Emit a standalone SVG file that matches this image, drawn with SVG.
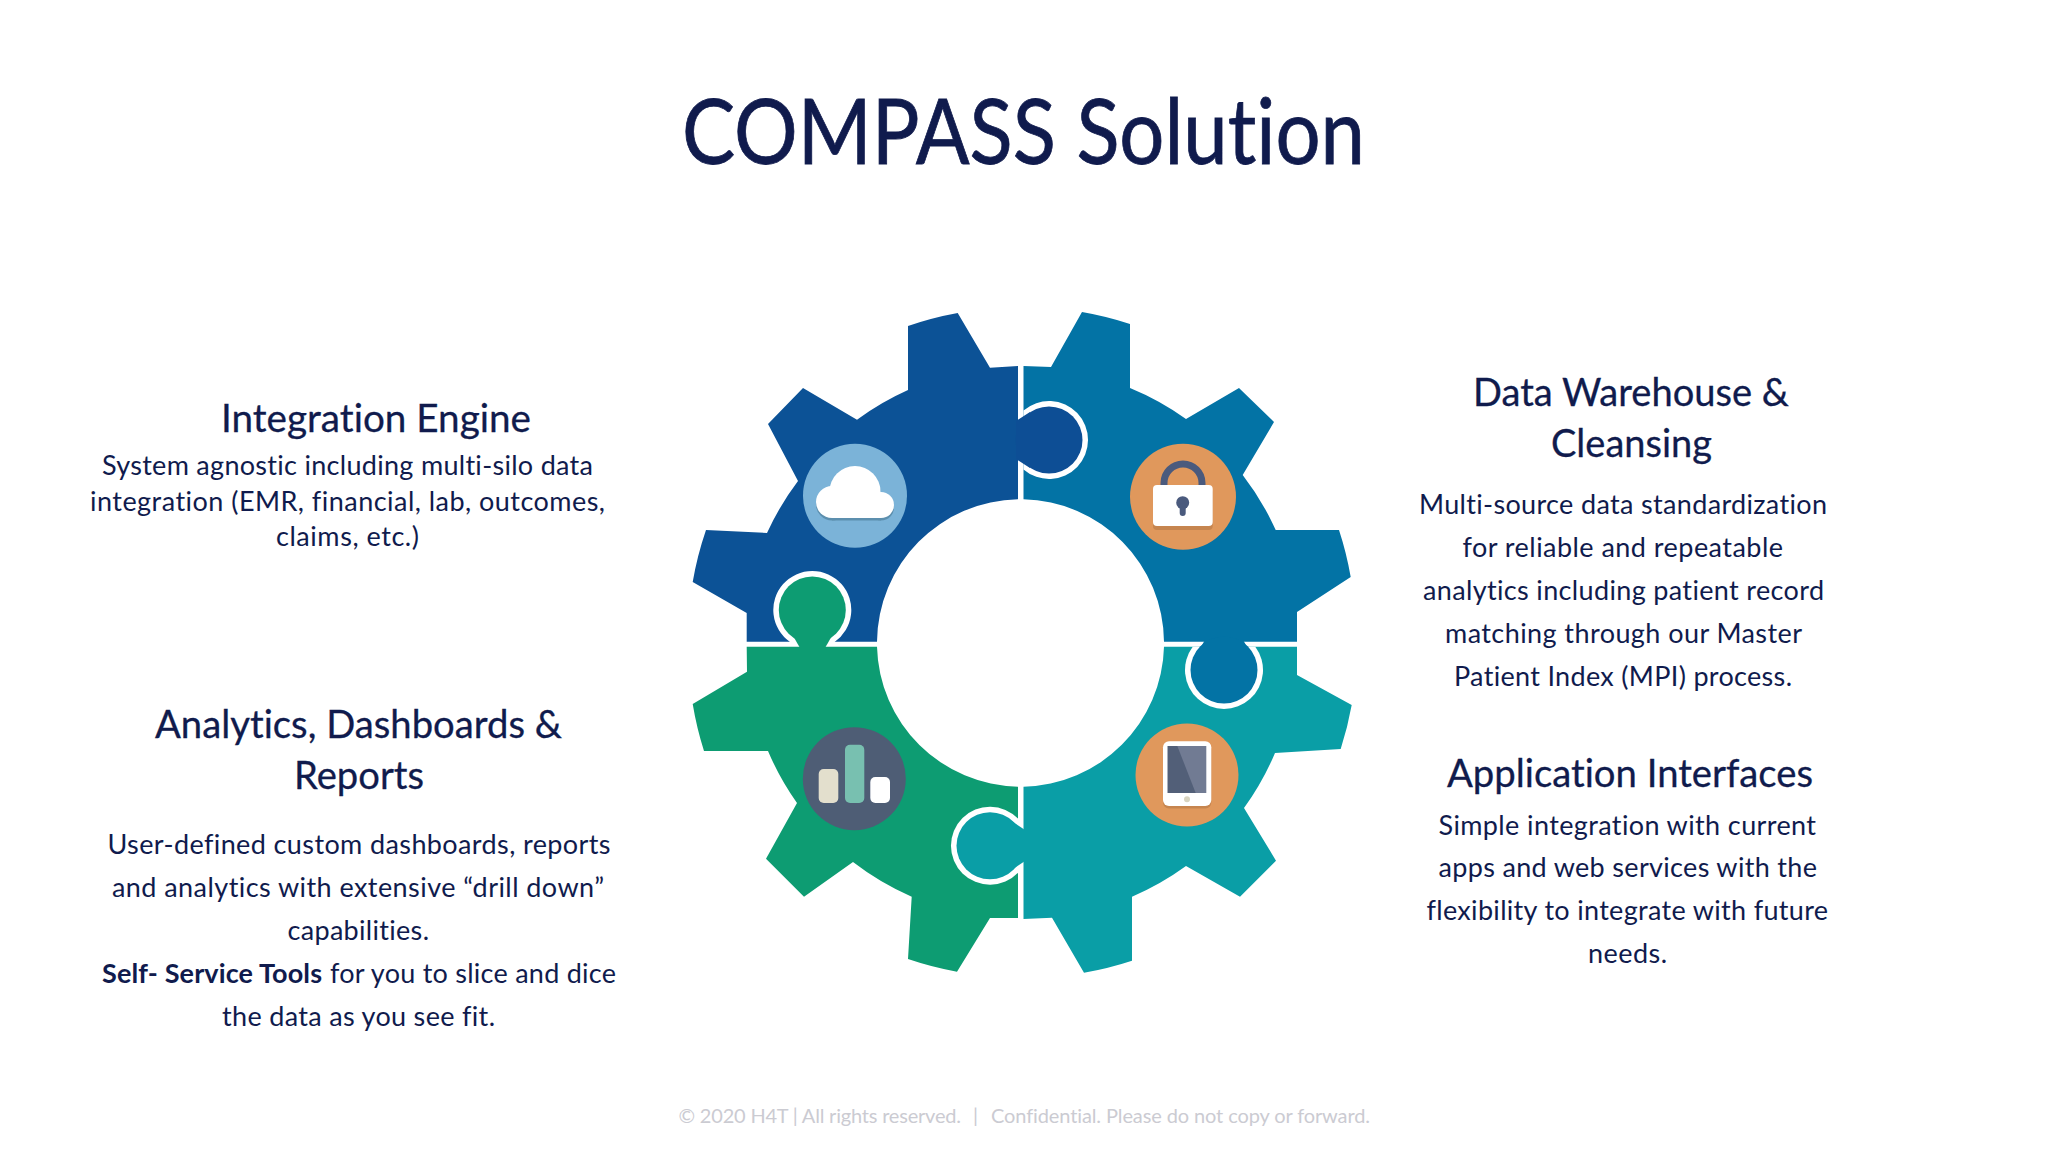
<svg xmlns="http://www.w3.org/2000/svg" width="2048" height="1152" viewBox="0 0 2048 1152">
<style>
text{font-family:"Lato","Carlito","Open Sans",sans-serif;fill:#101b4d;font-variant-ligatures:none}
.title{font-size:91px;stroke:#101b4d;stroke-width:.8px}
.h{font-size:39px;stroke:#101b4d;stroke-width:.3px}
.b{font-size:27px}
.bold{font-weight:700}
.foot{font-size:20px;fill:#cbcbd2}
.w{fill:#fff}
.blue{fill:#0c5296}.bluek{fill:#0d4e95}
.cyan{fill:#0373a5}
.teal{fill:#0a9ea6}
.green{fill:#0d9c72}
.org{fill:#e0985c}
</style>
<rect width="2048" height="1152" fill="#fff"/>
<text id="title" class="title" x="682" y="164" textLength="683" lengthAdjust="spacingAndGlyphs">COMPASS Solution</text>

<g id="gear-blue">
<path class="blue" d="M1018 366 L990 367.7 L957.7 313 A336 336 0 0 0 908 326 L908 390 A277 277 0 0 0 857 419.7 L803 388 L768 424 L798 481 A277 277 0 0 0 767 533 L706 530 A336 336 0 0 0 692.7 582 L746.7 613 L746.7 641.7 L877 641.7 A143.7 143.7 0 0 1 1018 499.3 Z"/>
</g>
<g id="gear-cyan">
<path class="cyan" d="M1023.5 366 L1051 367 L1082 312 A336 336 0 0 1 1130 324 L1130 388 A277 277 0 0 1 1186 419 L1239 388 L1274 422 L1242.7 475 A277 277 0 0 1 1275.7 530 L1339 530 A336 336 0 0 1 1350.7 577 L1297 612 L1297 641.7 L1164 641.7 A143.7 143.7 0 0 0 1023.5 499.3 Z"/>
</g>
<g id="gear-teal">
<path class="teal" d="M1023.5 786.7 L1023.5 919 L1052 917.7 L1084 972.7 A336 336 0 0 0 1132 960.7 L1132 896.7 A277 277 0 0 0 1186 866 L1240 896.7 L1276 860.7 L1244 808 A277 277 0 0 0 1275 753 L1340.7 749 A336 336 0 0 0 1351.7 705 L1297 675 L1297 646.7 L1164 646.7 A143.7 143.7 0 0 1 1023.5 786.7 Z"/>
</g>
<g id="gear-green">
<path class="green" d="M1018 786.7 L1018 918 L990 918 L957 971.7 A336 336 0 0 1 908 959 L911.7 896.7 A277 277 0 0 1 853 862 L804 896.7 L766 858.7 L797 803 A277 277 0 0 1 768 751 L704 751 A336 336 0 0 1 692.7 704 L747 671.7 L746.7 646.7 L877 646.7 A143.7 143.7 0 0 0 1018 786.7 Z"/>
</g>

<g id="knob-blue">
<path class="w" d="M1023.5 410.5 A39 39 0 1 1 1023.5 469.5 Z"/>
<circle class="bluek" cx="1049" cy="440" r="33.5"/>
<path class="bluek" d="M1016 421 L1030 412 L1030 468 L1016 459 Z"/>
</g>
<g id="knob-cyan">
<path class="w" d="M1192.7 646.7 A39 39 0 1 0 1255.3 646.7 Z"/>
<circle class="cyan" cx="1224" cy="670" r="33.5"/>
<path class="cyan" d="M1205 640 L1243 640 L1252 655 L1196 655 Z"/>
</g>
<g id="knob-teal">
<path class="w" d="M1018 818.6 A39 39 0 1 0 1018 872.8 Z"/>
<circle class="teal" cx="990" cy="845.7" r="33.5"/>
<path class="teal" d="M1025 830 L1010 820 L1010 871 L1025 861 Z"/>
</g>
<g id="knob-green">
<path class="w" d="M790 642 A39 39 0 1 1 834.6 642 Z"/>
<circle class="green" cx="812.3" cy="610" r="33.5"/>
<path class="green" d="M800 648 L792 634 L833 634 L825 648 Z"/>
</g>

<g id="icon-cloud">
<circle cx="855" cy="495.7" r="52" fill="#7bb3d8"/>
<g fill="#5c8fae" transform="translate(0 2.5)">
<circle cx="855" cy="491.5" r="25.5"/><circle cx="832" cy="502" r="16"/><circle cx="881" cy="505" r="13"/><rect x="832" y="495" width="49" height="23"/>
</g>
<g class="w">
<circle cx="855" cy="491.5" r="25.5"/><circle cx="832" cy="502" r="16"/><circle cx="881" cy="505" r="13"/><rect x="832" y="495" width="49" height="23"/>
</g>
</g>
<g id="icon-lock">
<circle class="org" cx="1183" cy="496.7" r="53"/>
<path d="M1164 488 V483 A19 19 0 0 1 1202 483 V488" fill="none" stroke="#4a5a7d" stroke-width="7"/>
<rect x="1153" y="489" width="59.7" height="41" rx="4" fill="#c6854f"/>
<rect class="w" x="1153" y="485" width="59.7" height="41" rx="4"/>
<circle cx="1182.7" cy="502.7" r="6.5" fill="#4a5a7d"/>
<rect x="1179.7" y="503" width="6" height="13" rx="3" fill="#4a5a7d"/>
</g>
<g id="icon-chart">
<circle cx="854.3" cy="778.7" r="51.5" fill="#4e5d75"/>
<rect x="818.7" y="769" width="19.6" height="34" rx="5" fill="#e3dfcd"/>
<rect x="845" y="744.7" width="19.3" height="58.3" rx="5" fill="#78c0b0"/>
<rect class="w" x="870.3" y="777" width="19.7" height="26" rx="5"/>
</g>
<g id="icon-tablet">
<circle class="org" cx="1187" cy="775" r="51.5"/>
<rect x="1163" y="744" width="48.3" height="64.5" rx="6" fill="#c6854f"/>
<rect class="w" x="1163" y="741.3" width="48.3" height="64.7" rx="6"/>
<rect x="1167.7" y="746" width="38.6" height="47" fill="#717b93"/>
<path d="M1167.7 746 H1177.3 L1195.7 793 H1167.7 Z" fill="#525f78"/>
<circle cx="1187" cy="799.3" r="3" fill="#d8d4c0"/>
</g>

<g id="integration-engine">
<text class="h" x="221" y="432" textLength="310" lengthAdjust="spacingAndGlyphs">Integration Engine</text>
<text class="b" x="102" y="475" textLength="491">System agnostic including multi-silo data</text>
<text class="b" x="90" y="510.5" textLength="515">integration (EMR, financial, lab, outcomes,</text>
<text class="b" x="276" y="546" textLength="143">claims, etc.)</text>
</g>
<g id="analytics">
<text class="h" x="155" y="738" textLength="407" lengthAdjust="spacingAndGlyphs">Analytics, Dashboards &amp;</text>
<text class="h" x="294" y="789" textLength="130" lengthAdjust="spacingAndGlyphs">Reports</text>
<text class="b" x="107.5" y="854" textLength="503">User-defined custom dashboards, reports</text>
<text class="b" x="112" y="897" textLength="492">and analytics with extensive “drill down”</text>
<text class="b" x="287.5" y="940" textLength="141.5">capabilities.</text>
<text class="b bold" x="102" y="983" textLength="220">Self- Service Tools</text>
<text class="b" x="330" y="983" textLength="286">for you to slice and dice</text>
<text class="b" x="222" y="1026" textLength="273">the data as you see fit.</text>
</g>
<g id="data-warehouse">
<text class="h" x="1473" y="406" textLength="316" lengthAdjust="spacingAndGlyphs">Data Warehouse &amp;</text>
<text class="h" x="1551" y="457" textLength="161" lengthAdjust="spacingAndGlyphs">Cleansing</text>
<text class="b" x="1419" y="514" textLength="408">Multi-source data standardization</text>
<text class="b" x="1462.5" y="557" textLength="320.5">for reliable and repeatable</text>
<text class="b" x="1423" y="600" textLength="401">analytics including patient record</text>
<text class="b" x="1445" y="643" textLength="357">matching through our Master</text>
<text class="b" x="1454" y="686" textLength="338">Patient Index (MPI) process.</text>
</g>
<g id="application-interfaces">
<text class="h" x="1447" y="787" textLength="366" lengthAdjust="spacingAndGlyphs">Application Interfaces</text>
<text class="b" x="1438.5" y="835" textLength="377.5">Simple integration with current</text>
<text class="b" x="1438.5" y="877" textLength="378.5">apps and web services with the</text>
<text class="b" x="1426.5" y="920" textLength="401.5">flexibility to integrate with future</text>
<text class="b" x="1588" y="963" textLength="79">needs.</text>
</g>
<g id="footer">
<text class="foot" x="678.5" y="1123" textLength="282.5">© 2020 H4T | All rights reserved.</text>
<text class="foot" x="973" y="1123">|</text>
<text class="foot" x="991" y="1123" textLength="379">Confidential. Please do not copy or forward.</text>
</g>
</svg>
